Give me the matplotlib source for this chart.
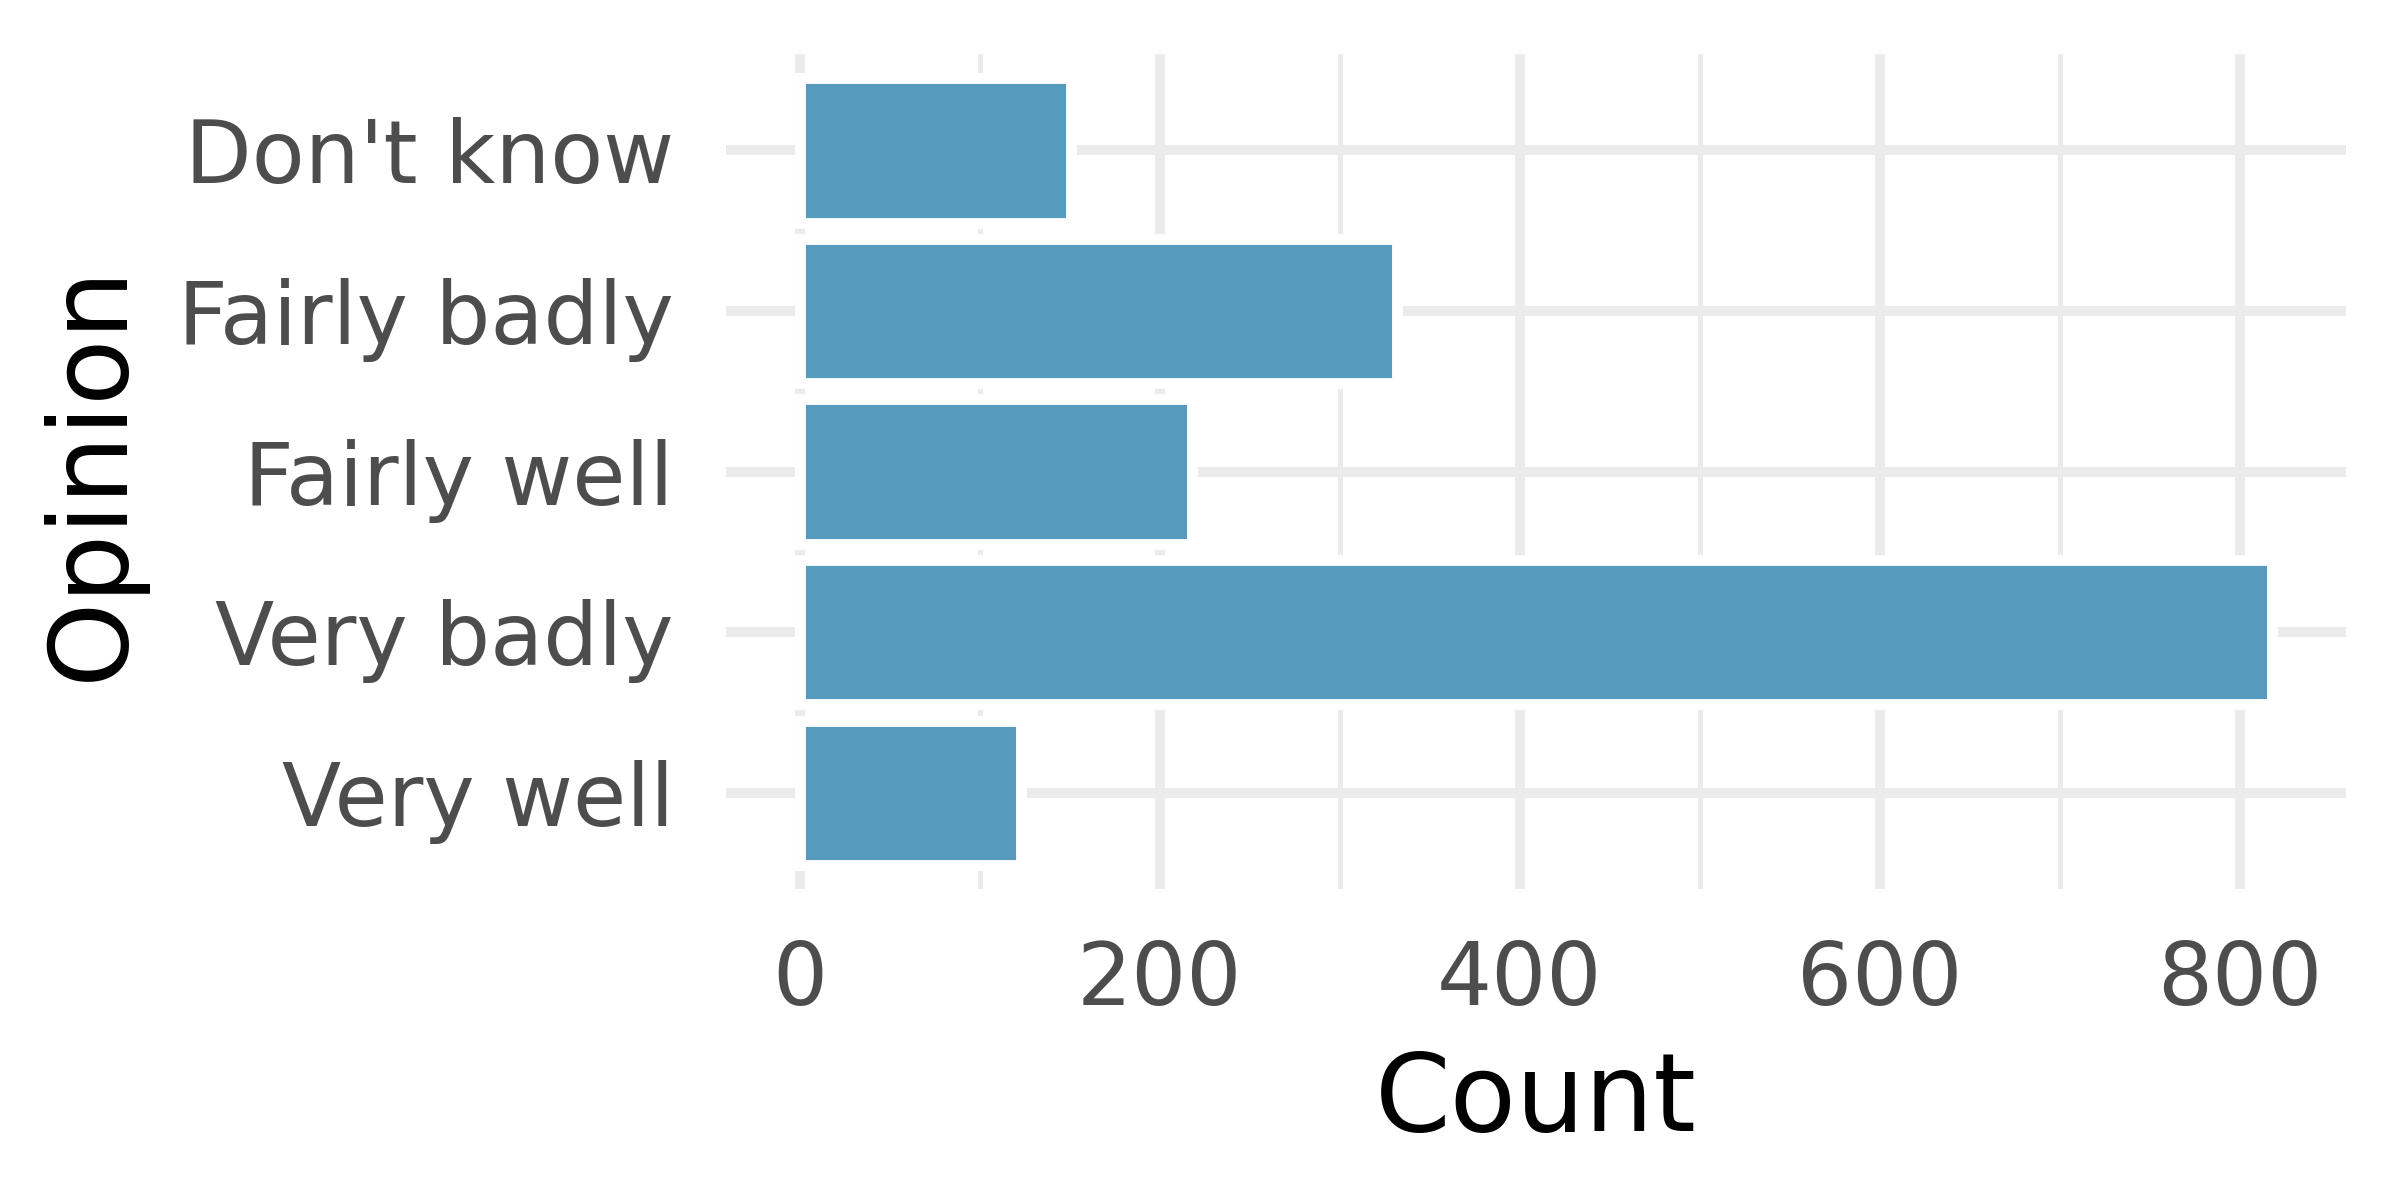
import matplotlib as mpl
mpl.use('Agg')
import matplotlib.pyplot as plt
import numpy as np

# data, top to bottom as drawn
opinions = ["Don't know", "Fairly badly", "Fairly well", "Very badly", "Very well"]
counts = [151, 332, 218, 818, 123]

bar_clr = '#569BBD'
grid_clr = '#EBEBEB'
txt_clr = '#4D4D4D'

mpl.rcParams['font.family'] = 'DejaVu Sans'

fig = plt.figure(figsize=(8, 4), dpi=300)
ax = fig.add_axes([0.3025, 0.259, 0.675, 0.696])

ypos = np.arange(len(opinions))[::-1] + 1
ax.barh(ypos, counts, height=0.9, color=bar_clr, edgecolor='white',
        linewidth=2.6, zorder=3)

xmax = max(counts)
ax.set_xlim(-0.05 * xmax, 1.05 * xmax)
ax.set_ylim(0.4, len(opinions) + 0.6)

ax.set_xticks([0, 200, 400, 600, 800])
ax.set_xticks([100, 300, 500, 700], minor=True)
ax.set_yticks(ypos)
ax.set_yticklabels(opinions)

ax.grid(True, which='major', color=grid_clr, lw=2.4, zorder=1)
ax.grid(True, which='minor', axis='x', color=grid_clr, lw=1.2, zorder=1)
ax.set_axisbelow(True)

for s in ax.spines.values():
    s.set_visible(False)
ax.tick_params(which='both', length=0)
ax.tick_params(axis='x', labelsize=20.8, labelcolor=txt_clr, pad=12)
ax.tick_params(axis='y', labelsize=20.8, labelcolor=txt_clr, pad=12.5)

ax.set_xlabel('Count', fontsize=26, color='black', labelpad=6)
ax.set_ylabel('Opinion', fontsize=26, color='black', labelpad=8)

plt.savefig('out.png', dpi=300)
plt.close()
